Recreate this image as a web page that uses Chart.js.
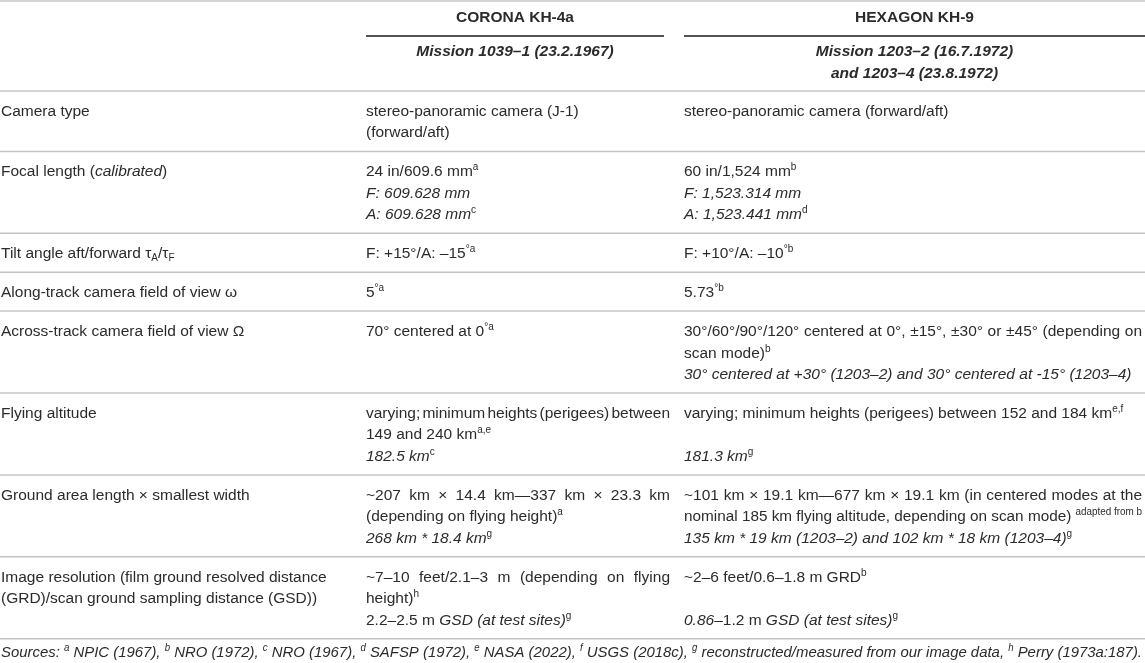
<!DOCTYPE html>
<html>
<head>
<meta charset="utf-8">
<script src="https://cdn.jsdelivr.net/npm/chart.js@4.4.1/dist/chart.umd.min.js"></script>
<style>
  html, body { margin: 0; padding: 0; background: #ffffff; }
  #caixa { width: 1145px; height: 663px; position: relative; }
</style>
</head>
<body>
<div id="caixa"><canvas id="tabela"></canvas></div>
<script>
// dados da tabela (texto com marcação simples: <i>, <b>, <sup>, <sub>)
const sensores = ['CORONA KH-4a', 'HEXAGON KH-9'];

const missoes = [
    ['Mission 1039–1 (23.2.1967)'],
    ['Mission 1203–2 (16.7.1972)', 'and 1203–4 (23.8.1972)']
];

const parametros = [
    ['Camera type'],
    ['Focal length (<i>calibrated</i>)'],
    ['Tilt angle aft/forward τ<sub>A</sub>/τ<sub>F</sub>'],
    ['Along-track camera field of view ω'],
    ['Across-track camera field of view Ω'],
    ['Flying altitude'],
    ['Ground area length × smallest width'],
    ['Image resolution (film ground resolved distance', '(GRD)/scan ground sampling distance (GSD))']
];

const corona = [
    ['stereo-panoramic camera (J-1)', '(forward/aft)'],
    ['24 in/609.6 mm<sup>a</sup>', '<i>F: 609.628 mm</i>', '<i>A: 609.628 mm</i><sup>c</sup>'],
    ['F: +15°/A: –15<sup>°a</sup>'],
    ['5<sup>°a</sup>'],
    ['70° centered at 0<sup>°a</sup>'],
    ['varying; minimum heights (perigees) between', '149 and 240 km<sup>a,e</sup>', '<i>182.5 km</i><sup>c</sup>'],
    ['~207 km × 14.4 km—337 km × 23.3 km', '(depending on flying height)<sup>a</sup>', '<i>268 km * 18.4 km</i><sup>g</sup>'],
    ['~7–10 feet/2.1–3 m (depending on flying', 'height)<sup>h</sup>', '2.2–2.5 m <i>GSD (at test sites)</i><sup>g</sup>']
];

const hexagon = [
    ['stereo-panoramic camera (forward/aft)'],
    ['60 in/1,524 mm<sup>b</sup>', '<i>F: 1,523.314 mm</i>', '<i>A: 1,523.441 mm</i><sup>d</sup>'],
    ['F: +10°/A: –10<sup>°b</sup>'],
    ['5.73<sup>°b</sup>'],
    ['30°/60°/90°/120° centered at 0°, ±15°, ±30° or ±45° (depending on', 'scan mode)<sup>b</sup>',
     '<i>30° centered at +30° (1203–2) and 30° centered at -15° (1203–4)</i>'],
    ['varying; minimum heights (perigees) between 152 and 184 km<sup>e,f</sup>', '', '<i>181.3 km</i><sup>g</sup>'],
    ['~101 km × 19.1 km—677 km × 19.1 km (in centered modes at the',
     'nominal 185 km flying altitude, depending on scan mode) <sup>adapted from b</sup>',
     '<i>135 km * 19 km (1203–2) and 102 km * 18 km (1203–4)</i><sup>g</sup>'],
    ['~2–6 feet/0.6–1.8 m GRD<sup>b</sup>', '', '<i>0.86</i>–1.2 m <i>GSD (at test sites)</i><sup>g</sup>']
];

const fontes = '<i>Sources: <sup>a</sup> NPIC (1967), <sup>b</sup> NRO (1972), <sup>c</sup> NRO (1967), ' +
    '<sup>d</sup> SAFSP (1972), <sup>e</sup> NASA (2022), <sup>f</sup> USGS (2018c), ' +
    '<sup>g</sup> reconstructed/measured from our image data, <sup>h</sup> Perry (1973a:187).</i>';


// layout
const LARGURA = 1145, ALTURA = 663;
const FONTE = '"Liberation Sans", Arial, sans-serif';
const TAM = 15.5, TAM_SUP = 10;
const COR_TEXTO = '#2b2b2b';
const LINHA = 21.5, PAD = 8.7;
const colX = [1, 366, 684];
const colFim = [350, 670, 1142];
const spans = [[366, 664], [684, 1145]];
const REGUA_TOPO = 1, REGUA_MEIO = 36, REGUA_CAB = 91;

// calcula posição das linhas de texto e das réguas
const celulas = [];   // {linhas, x, y0, align, larg, justifica}
const reguas = [];    // {x0, x1, y, cor, w}

reguas.push({ x0: 0, x1: LARGURA, y: REGUA_TOPO, cor: '#c4c4c4', w: 1.5 });
spans.forEach((s, i) => {
    reguas.push({ x0: s[0], x1: s[1], y: REGUA_MEIO, cor: '#1a1a1a', w: 1.6 });
    celulas.push({ linhas: ['<b>' + sensores[i] + '</b>'], x: (s[0] + s[1]) / 2, y0: 6, align: 'center' });
    celulas.push({ linhas: missoes[i].map(m => '<b><i>' + m + '</i></b>'), x: (s[0] + s[1]) / 2, y0: 40, align: 'center' });
});
reguas.push({ x0: 0, x1: LARGURA, y: REGUA_CAB, cor: '#c4c4c4', w: 1.5 });

let yAtual = REGUA_CAB;
parametros.forEach((p, i) => {
    const n = Math.max(p.length, corona[i].length, hexagon[i].length);
    const y0 = yAtual + PAD;
    [p, corona[i], hexagon[i]].forEach((cel, c) => {
        celulas.push({ linhas: cel, x: colX[c], y0, align: 'left', larg: colFim[c] - colX[c], justifica: c > 0 });
    });
    yAtual += n * LINHA + 2 * PAD;
    reguas.push({ x0: 0, x1: LARGURA, y: yAtual, cor: '#c4c4c4', w: 1.5 });
});
celulas.push({ linhas: [fontes], x: colX[0], y0: yAtual + 2, align: 'left', larg: LARGURA - 4 });


function partes(str) {
    const runs = [];
    let est = { i: false, b: false, sup: false, sub: false };
    str.split(/(<\/?(?:i|b|sup|sub)>)/).forEach(tok => {
        const m = tok.match(/^<(\/?)(i|b|sup|sub)>$/);
        if (m) est = { ...est, [m[2]]: !m[1] };
        else if (tok) runs.push({ text: tok, ...est });
    });
    return runs;
}

function fonteDe(r) {
    const tam = (r.sup || r.sub) ? TAM_SUP : TAM;
    return (r.i ? 'italic ' : '') + (r.b ? 'bold ' : '') + tam + 'px ' + FONTE;
}

// desenha uma linha; se "just" estica/encolhe os espaços até a largura da coluna
function desenhaLinha(ctx, str, x, yBase, align, larg, just) {
    const runs = partes(str);
    let total = 0, espacos = 0;
    runs.forEach(r => {
        ctx.font = fonteDe(r);
        r.w = ctx.measureText(r.text).width;
        total += r.w;
        if (!r.sup && !r.sub) espacos += (r.text.match(/ /g) || []).length;
    });
    let extra = 0, esc = 1;
    if (just && espacos > 0) extra = (larg - total) / espacos;
    else if (larg && total > larg) esc = larg / total;
    const x0 = align === 'center' ? x - total / 2 : x;
    ctx.save();
    ctx.translate(x0, yBase);
    ctx.scale(esc, 1);
    let cx = 0;
    runs.forEach(r => {
        ctx.font = fonteDe(r);
        const dy = r.sup ? -6 : (r.sub ? 3 : 0);
        if (extra !== 0 && !r.sup && !r.sub) {
            const espW = ctx.measureText(' ').width;
            r.text.split(' ').forEach((pal, k, arr) => {
                ctx.fillText(pal, cx, dy);
                cx += ctx.measureText(pal).width;
                if (k < arr.length - 1) cx += espW + extra;
            });
        } else {
            ctx.fillText(r.text, cx, dy);
            cx += r.w;
        }
    });
    ctx.restore();
}

// linha justificada: larga, não é a última, e a seguinte continua o mesmo parágrafo
function deveJustificar(ctx, cel, k) {
    if (!cel.justifica) return false;
    const prox = cel.linhas[k + 1];
    if (!prox || prox.startsWith('<i>')) return false;
    let w = 0;
    partes(cel.linhas[k]).forEach(r => { ctx.font = fonteDe(r); w += ctx.measureText(r.text).width; });
    return w > 0.8 * cel.larg;
}

const pluginTabela = {
    id: 'textoTabela',
    afterDatasetsDraw(chart) {
        const { ctx, scales: { x, y } } = chart;
        ctx.save();
        ctx.fillStyle = COR_TEXTO;
        ctx.textBaseline = 'alphabetic';
        celulas.forEach(c => {
            c.linhas.forEach((l, k) => {
                const yc = c.y0 + LINHA * (k + 0.5);
                const just = deveJustificar(ctx, c, k);
                desenhaLinha(ctx, l, x.getPixelForValue(c.x), y.getPixelForValue(yc) + 5.5, c.align, c.larg, just);
            });
        });
        ctx.restore();
    }
};

const tabela = new Chart(document.getElementById('tabela'), {
    type: 'scatter',
    data: {
        datasets: reguas.map(r => ({
            type: 'line',
            data: [{ x: r.x0, y: r.y }, { x: r.x1, y: r.y }],
            borderColor: r.cor,
            borderWidth: r.w,
            pointRadius: 0,
            clip: false
        }))
    },
    options: {
        responsive: true,
        maintainAspectRatio: false,
        animation: false,
        events: [],
        layout: { padding: 0 },
        plugins: { legend: { display: false }, tooltip: { enabled: false } },
        scales: {
            x: { type: 'linear', min: 0, max: LARGURA, display: false },
            y: { type: 'linear', min: 0, max: ALTURA, reverse: true, display: false }
        }
    },
    plugins: [pluginTabela]
});
</script>
</body>
</html>
